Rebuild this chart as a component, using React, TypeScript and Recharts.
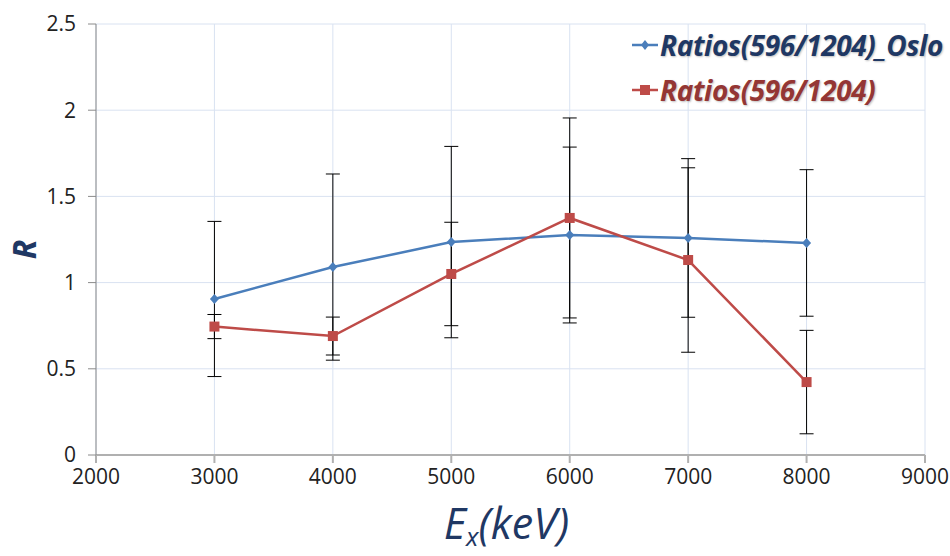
import React from "react";
import {
  LineChart,
  Line,
  XAxis,
  YAxis,
  CartesianGrid,
  ErrorBar,
  Label,
} from "recharts";

const energies = [3000, 4000, 5000, 6000, 7000, 8000];
const osloRatios = [0.905, 1.09, 1.235, 1.276, 1.259, 1.23];
const osloErrors = [0.45, 0.54, 0.555, 0.51, 0.46, 0.425];
const ratios = [0.745, 0.69, 1.05, 1.375, 1.131, 0.423];
const ratioErrors = [0.07, 0.11, 0.3, 0.58, 0.535, 0.3];

const xTicks = [2000, 3000, 4000, 5000, 6000, 7000, 8000, 9000];
const yTicks = [0, 0.5, 1, 1.5, 2, 2.5];

const BLUE = "#4a7ebb";
const RED = "#be4b48";
const NAVY = "#1f3864";

const data = energies.map((e, i) => ({
  ex: e,
  oslo: osloRatios[i],
  osloErr: osloErrors[i],
  ratio: ratios[i],
  ratioErr: ratioErrors[i],
}));

const Diamond = (props: any) => {
  const { cx, cy, index } = props;
  return (
    <path
      key={`dia-${index}`}
      d={`M${cx},${cy - 5}L${cx + 4.5},${cy}L${cx},${cy + 5}L${cx - 4.5},${cy}Z`}
      fill={BLUE}
    />
  );
};

const Square = (props: any) => {
  const { cx, cy, index } = props;
  return <rect key={`sq-${index}`} x={cx - 5} y={cy - 5} width={10} height={10} fill={RED} />;
};

const legendItems = [
  { name: "Ratios(596/1204)_Oslo", color: BLUE, text: NAVY, shape: "diamond" },
  { name: "Ratios(596/1204)", color: RED, text: "#943634", shape: "square" },
];

function LegendBox() {
  return (
    <div style={{ position: "absolute", left: 630, top: 22, width: 320 }}>
      {legendItems.map((it) => (
        <div key={it.name} style={{ display: "flex", alignItems: "center", height: 45 }}>
          <svg width={30} height={14}>
            <line x1={2} y1={7} x2={28} y2={7} stroke={it.color} strokeWidth={2.5} />
            {it.shape === "diamond" ? (
              <path d="M15,2L19,7L15,12L11,7Z" fill={it.color} />
            ) : (
              <rect x={10} y={2} width={10} height={10} fill={it.color} />
            )}
          </svg>
          <span
            style={{
              fontFamily: "Open Sans",
              fontWeight: 700,
              fontStyle: "italic",
              fontSize: 28,
              letterSpacing: -0.4,
              color: it.text,
              textShadow: "1px 1px 2px rgba(0,0,0,0.25)",
              whiteSpace: "nowrap",
            }}
          >
            {it.name}
          </span>
        </div>
      ))}
    </div>
  );
}

export default function App() {
  return (
    <div
      style={{
        position: "absolute",
        left: 0,
        top: 0,
        width: 950,
        height: 556,
        background: "#fff",
        fontFamily: "Open Sans",
      }}
    >
      <LineChart
        width={950}
        height={556}
        data={data}
        margin={{ top: 24, right: 25, bottom: 40, left: 0 }}
      >
        <CartesianGrid stroke="#d9e2f1" />
        <XAxis
          dataKey="ex"
          type="number"
          domain={[2000, 9000]}
          ticks={xTicks}
          height={61}
          tickSize={8}
          tickMargin={6}
          stroke="#b0b0b0"
          strokeWidth={2}
          tick={{ fill: "#222", fontSize: 21 }}
        >
          <Label
            content={(p: any) => {
              const vb = p.viewBox;
              return (
                <text
                  x={vb.x + vb.width / 2 - 4}
                  y={vb.y + 84}
                  textAnchor="middle"
                  fill={NAVY}
                  fontFamily="Open Sans"
                  fontStyle="italic"
                  fontSize={43}
                >
                  E<tspan fontSize={26} dy={7}>x</tspan>
                  <tspan dy={-7}>(keV)</tspan>
                </text>
              );
            }}
          />
        </XAxis>
        <YAxis
          type="number"
          domain={[0, 2.5]}
          ticks={yTicks}
          width={96}
          tickSize={8}
          tickMargin={12}
          stroke="#8a8a8a"
          tick={{ fill: "#222", fontSize: 21 }}
        >
          <Label
            content={(p: any) => {
              const vb = p.viewBox;
              const cy = vb.y + vb.height / 2 + 10;
              return (
                <text
                  x={36}
                  y={cy}
                  transform={`rotate(-90 36 ${cy})`}
                  textAnchor="middle"
                  fill={NAVY}
                  fontFamily="Open Sans"
                  fontStyle="italic"
                  fontWeight={700}
                  fontSize={32}
                >
                  R
                </text>
              );
            }}
          />
        </YAxis>
        <Line
          dataKey="oslo"
          stroke={BLUE}
          strokeWidth={2.5}
          dot={Diamond}
          activeDot={false}
          isAnimationActive={false}
        >
          <ErrorBar dataKey="osloErr" direction="y" width={7} stroke="#000" strokeWidth={1} />
        </Line>
        <Line
          dataKey="ratio"
          stroke={RED}
          strokeWidth={2.5}
          dot={Square}
          activeDot={false}
          isAnimationActive={false}
        >
          <ErrorBar dataKey="ratioErr" direction="y" width={7} stroke="#000" strokeWidth={1} />
        </Line>
      </LineChart>
      <LegendBox />
    </div>
  );
}
